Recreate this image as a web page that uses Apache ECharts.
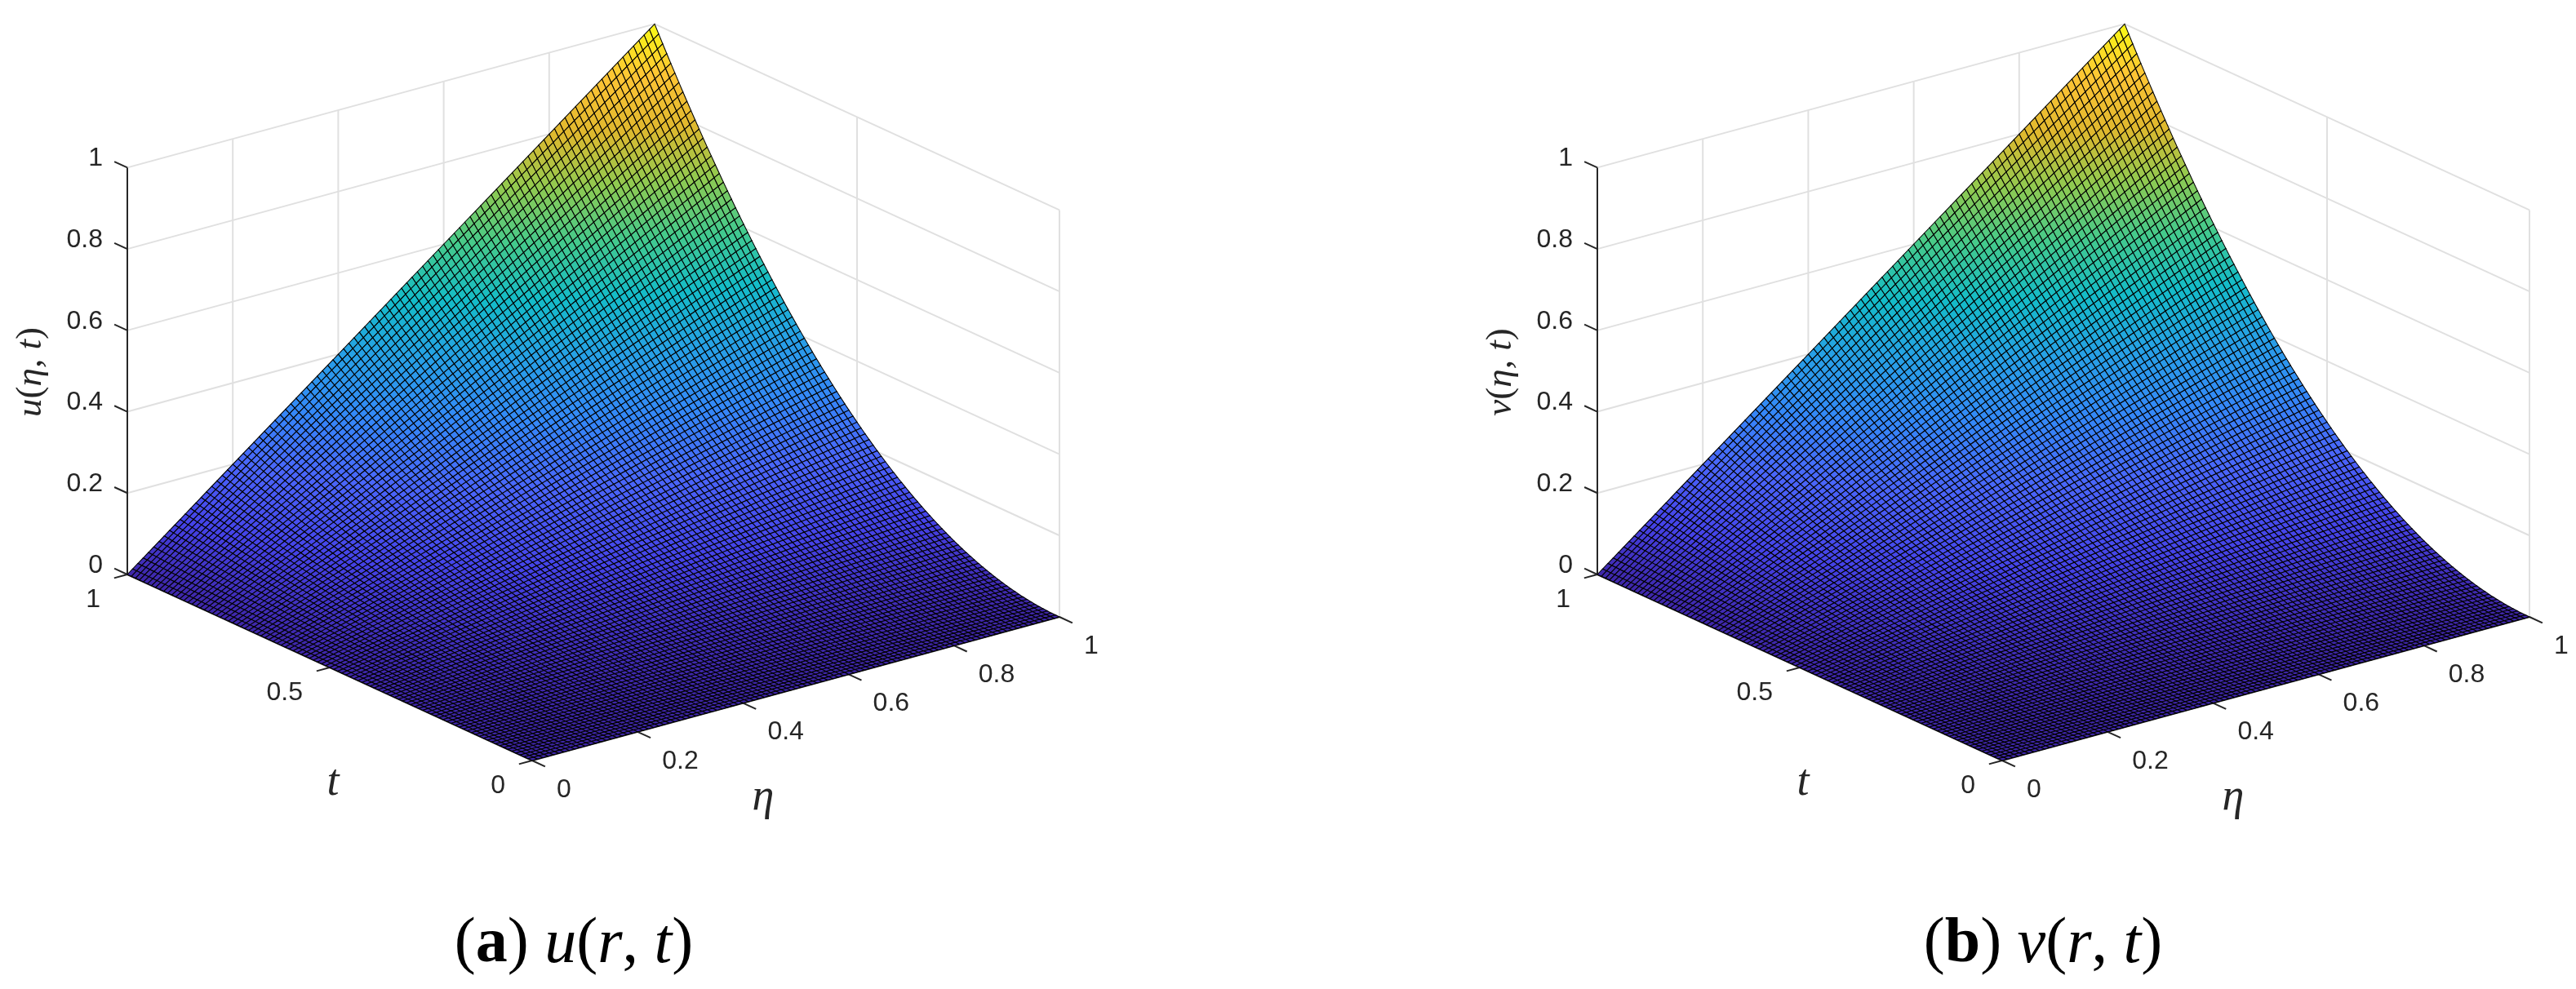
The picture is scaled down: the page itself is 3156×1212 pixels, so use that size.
<!DOCTYPE html>
<html>
<head>
<meta charset="utf-8">
<title>u(r,t) and v(r,t)</title>
<style>
  html, body { margin: 0; padding: 0; background: #fff; }
  #chart { width: 3156px; height: 1212px; }
</style>
<script src="https://cdn.jsdelivr.net/npm/echarts@6/dist/echarts.min.js"></script>
</head>
<body>
<div id="chart"></div>
<script>
// mesh positions, same for eta and t
const gridSteps = [0,0.01,0.02,0.03,0.04,0.05,0.06,0.07,0.08,0.09,0.1,0.11,0.12,0.13,0.14,0.15,0.16,0.17,0.18,0.19,0.2,0.21,0.22,0.23,0.24,0.25,0.26,0.27,0.28,0.29,0.3,0.31,0.32,0.33,0.34,0.35,0.36,0.37,0.38,0.39,0.4,0.41,0.42,0.43,0.44,0.45,0.46,0.47,0.48,0.49,0.5,0.51,0.52,0.53,0.54,0.55,0.56,0.57,0.58,0.59,0.6,0.61,0.62,0.63,0.64,0.65,0.66,0.67,0.68,0.69,0.7,0.71,0.72,0.73,0.74,0.75,0.76,0.77,0.78,0.79,0.8,0.81,0.82,0.83,0.84,0.85,0.86,0.87,0.88,0.89,0.9,0.91,0.92,0.93,0.94,0.95,0.96,0.97,0.98,0.99,1];

// height along the t=1 edge (straight line)
const uEtaEdge = [0,0.01,0.02,0.03,0.04,0.05,0.06,0.07,0.08,0.09,0.1,0.11,0.12,0.13,0.14,0.15,0.16,0.17,0.18,0.19,0.2,0.21,0.22,0.23,0.24,0.25,0.26,0.27,0.28,0.29,0.3,0.31,0.32,0.33,0.34,0.35,0.36,0.37,0.38,0.39,0.4,0.41,0.42,0.43,0.44,0.45,0.46,0.47,0.48,0.49,0.5,0.51,0.52,0.53,0.54,0.55,0.56,0.57,0.58,0.59,0.6,0.61,0.62,0.63,0.64,0.65,0.66,0.67,0.68,0.69,0.7,0.71,0.72,0.73,0.74,0.75,0.76,0.77,0.78,0.79,0.8,0.81,0.82,0.83,0.84,0.85,0.86,0.87,0.88,0.89,0.9,0.91,0.92,0.93,0.94,0.95,0.96,0.97,0.98,0.99,1];

// height along the eta=1 edge (curved)
const uTimeEdge = [0,0.0001,0.0004,0.0009,0.0016,0.0025,0.0036,0.0049,0.0064,0.0081,0.01,0.0121,0.0144,0.0169,0.0196,0.0225,0.0256,0.0289,0.0324,0.0361,0.04,0.0441,0.0484,0.0529,0.0576,0.0625,0.0676,0.0729,0.0784,0.0841,0.09,0.0961,0.1024,0.1089,0.1156,0.1225,0.1296,0.1369,0.1444,0.1521,0.16,0.1681,0.1764,0.1849,0.1936,0.2025,0.2116,0.2209,0.2304,0.2401,0.25,0.2601,0.2704,0.2809,0.2916,0.3025,0.3136,0.3249,0.3364,0.3481,0.36,0.3721,0.3844,0.3969,0.4096,0.4225,0.4356,0.4489,0.4624,0.4761,0.49,0.5041,0.5184,0.5329,0.5476,0.5625,0.5776,0.5929,0.6084,0.6241,0.64,0.6561,0.6724,0.6889,0.7056,0.7225,0.7396,0.7569,0.7744,0.7921,0.81,0.8281,0.8464,0.8649,0.8836,0.9025,0.9216,0.9409,0.9604,0.9801,1];

// panel (b) reads the same as panel (a)
const vEtaEdge = uEtaEdge;
const vTimeEdge = uTimeEdge;

const zTicks = [0, 0.2, 0.4, 0.6, 0.8, 1];
const etaTicks = [0, 0.2, 0.4, 0.6, 0.8, 1];
const tTicks = [0, 0.5, 1];

// colours of the surface from z=0 to z=1
const surfaceColors = ['#3e26a8','#4543e8','#4a65fa','#3488f8','#27a0e6','#14bcc8','#44ca8c','#90ca50','#e0b82e','#fdc435','#f9fb14'];

const gridColor = '#e0e0e0';
const axisColor = '#262626';

// fixed view of the box, in axis units of the hidden cartesian grid
const view = { x0: 652, y0: 932, etaX: 646, etaY: -176, tX: -496, tY: -228, zY: -498.6 };
const panels = [
  { left: 0, width: 1578, etaEdge: uEtaEdge, timeEdge: uTimeEdge, zName: 'u', caption: 'a', fn: 'u', captionX: 698 },
  { left: 1801, width: 1355, etaEdge: vEtaEdge, timeEdge: vTimeEdge, zName: 'v', caption: 'b', fn: 'v', captionX: 2498 }
];

function project(eta, t, z) {
  return [
    view.x0 + eta * view.etaX + t * view.tX,
    view.y0 + eta * view.etaY + t * view.tY + z * view.zY
  ];
}

// walls and floor: each row is eta0,t0,z0,eta1,t1,z1
function wallLines() {
  const rows = [];
  zTicks.forEach(function (z) {
    rows.push([0, 1, z, 1, 1, z]);
    rows.push([1, 1, z, 1, 0, z]);
  });
  etaTicks.forEach(function (e) {
    if (e > 0) rows.push([e, 1, 0, e, 1, 1]);
    rows.push([e, 0, 0, e, 1, 0]);
  });
  tTicks.forEach(function (t) {
    if (t < 1) rows.push([1, t, 0, 1, t, 1]);
    rows.push([0, t, 0, 1, t, 0]);
  });
  return rows;
}

function axisLines() {
  const rows = [[0, 1, 0, 0, 1, 1], [0, 0, 0, 0, 1, 0], [0, 0, 0, 1, 0, 0]];
  zTicks.forEach(function (z) { rows.push([0, 1, z, 0, 1.032, z]); });
  tTicks.forEach(function (t) { rows.push([0, t, 0, -0.025, t, 0]); });
  etaTicks.forEach(function (e) { rows.push([e, 0, 0, e, -0.032, 0]); });
  return rows;
}

function lineRender(color) {
  return function (params, api) {
    const a = api.coord(project(api.value(0), api.value(1), api.value(2)));
    const b = api.coord(project(api.value(3), api.value(4), api.value(5)));
    return {
      type: 'line',
      shape: { x1: a[0], y1: a[1], x2: b[0], y2: b[1] },
      style: { stroke: color, lineWidth: 2, fill: null }
    };
  };
}

// cells are listed back to front so nearer ones paint over farther ones
function surfaceCells(etaEdge, timeEdge) {
  const rows = [];
  for (let i = gridSteps.length - 2; i >= 0; i--) {
    for (let j = gridSteps.length - 2; j >= 0; j--) {
      const mean = (etaEdge[i] + etaEdge[i + 1]) * (timeEdge[j] + timeEdge[j + 1]) / 4;
      rows.push([i, j, mean]);
    }
  }
  return rows;
}

function surfaceRender(etaEdge, timeEdge) {
  function corner(api, i, j) {
    return api.coord(project(gridSteps[i], gridSteps[j], etaEdge[i] * timeEdge[j]));
  }
  return function (params, api) {
    const i = api.value(0);
    const j = api.value(1);
    return {
      type: 'polygon',
      shape: { points: [corner(api, i, j), corner(api, i + 1, j), corner(api, i + 1, j + 1), corner(api, i, j + 1)] },
      style: { fill: api.visual('color'), stroke: '#000', lineWidth: 1.05 }
    };
  };
}

function tickLabels() {
  const rows = [];
  zTicks.forEach(function (z) { rows.push([0, 1, z, z, -30, -11, 0]); });
  tTicks.forEach(function (t) { rows.push([0, t, 0, t, -33, 31, 0]); });
  etaTicks.forEach(function (e) { rows.push([e, 0, 0, e, 30, 36, 1]); });
  return rows;
}

function labelRender(params, api) {
  const p = api.coord(project(api.value(0), api.value(1), api.value(2)));
  return {
    type: 'text',
    style: {
      x: p[0] + api.value(4),
      y: p[1] + api.value(5),
      text: String(api.value(3)),
      font: '32px "Liberation Sans"',
      fill: axisColor,
      textAlign: api.value(6) ? 'left' : 'right',
      textVerticalAlign: 'middle'
    }
  };
}

const mathItalic = 'italic 54px "Liberation Serif"';
const graphics = [];
const series = [];
const grids = [];
const xAxes = [];
const yAxes = [];
const titles = [];
const surfaceSeriesIndex = [];

panels.forEach(function (p, k) {
  grids.push({ left: p.left, top: 0, width: p.width, height: 1212 });
  xAxes.push({ type: 'value', gridIndex: k, min: 0, max: p.width, show: false });
  yAxes.push({ type: 'value', gridIndex: k, min: 0, max: 1212, inverse: true, show: false });

  const common = { type: 'custom', xAxisIndex: k, yAxisIndex: k, silent: true, animation: false, progressive: 0 };
  series.push(Object.assign({}, common, { data: wallLines(), renderItem: lineRender(gridColor), z: 1 }));
  series.push(Object.assign({}, common, { data: axisLines(), renderItem: lineRender(axisColor), z: 2 }));
  surfaceSeriesIndex.push(series.length);
  series.push(Object.assign({}, common, {
    data: surfaceCells(p.etaEdge, p.timeEdge),
    renderItem: surfaceRender(p.etaEdge, p.timeEdge),
    z: 3
  }));
  series.push(Object.assign({}, common, { data: tickLabels(), renderItem: labelRender, z: 4 }));

  graphics.push({ type: 'text', x: p.left + 408, y: 960, style: { text: 't', font: mathItalic, fill: axisColor, textAlign: 'center', textVerticalAlign: 'middle' } });
  graphics.push({ type: 'text', x: p.left + 935, y: 978, style: { text: 'η', font: mathItalic, fill: axisColor, textAlign: 'center', textVerticalAlign: 'middle' } });
  graphics.push({
    type: 'text', x: p.left + 38, y: 456, rotation: Math.PI / 2,
    style: {
      text: '{i|' + p.zName + '}{n|(}{i|η, t}{n|)}',
      fill: axisColor, textAlign: 'center', textVerticalAlign: 'middle',
      rich: {
        i: { font: 'italic 45px "Liberation Serif"', fill: axisColor },
        n: { font: '45px "Liberation Serif"', fill: axisColor }
      }
    }
  });

  titles.push({
    text: '{n|(}{b|' + p.caption + '}{n|) }{i|' + p.fn + '}{n|(}{i|r}{n|, }{i|t}{n|)}',
    left: p.captionX,
    top: 1114,
    textAlign: 'center',
    textStyle: {
      fontWeight: 'normal',
      rich: {
        n: { fontFamily: 'Liberation Serif', fontSize: 78, fontWeight: 'normal', color: '#000' },
        b: { fontFamily: 'Liberation Serif', fontSize: 78, fontWeight: 'bold', color: '#000' },
        i: { fontFamily: 'Liberation Serif', fontSize: 78, fontWeight: 'normal', fontStyle: 'italic', color: '#000' }
      }
    }
  });
});

const myChart = echarts.init(document.getElementById('chart'));
myChart.setOption({
  animation: false,
  backgroundColor: '#fff',
  title: titles,
  grid: grids,
  xAxis: xAxes,
  yAxis: yAxes,
  visualMap: {
    show: false,
    type: 'continuous',
    min: 0,
    max: 1,
    dimension: 2,
    seriesIndex: surfaceSeriesIndex,
    inRange: { color: surfaceColors }
  },
  graphic: graphics,
  series: series
});
</script>
</body>
</html>
